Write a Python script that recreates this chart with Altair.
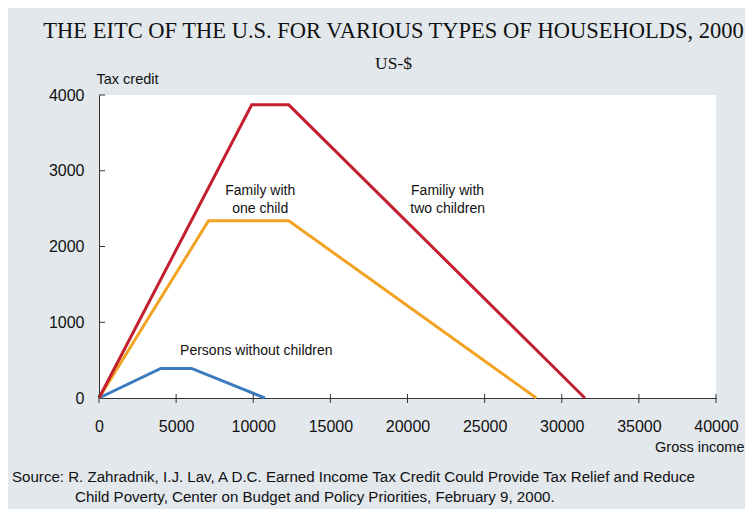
import altair as alt
import pandas as pd

# ---- data ----
series_names = ["Persons without children", "Family with one child", "Familiy with two children"]
income_no_child = [0, 4000, 6000, 10750]
credit_no_child = [0, 390, 390, 0]
income_one_child = [0, 7100, 12300, 28350]
credit_one_child = [0, 2340, 2340, 0]
income_two_children = [0, 9900, 12300, 31500]
credit_two_children = [0, 3870, 3870, 0]
series_colors = ["#3b7cbf", "#f2a324", "#c3202f"]

x_ticks = [0, 5000, 10000, 15000, 20000, 25000, 30000, 35000, 40000]
y_ticks = [0, 1000, 2000, 3000, 4000]

label_texts = [["Family with", "one child"], ["Familiy with", "two children"], ["Persons without children"]]
label_x = [10450, 22600, 10200]
label_y = [2730, 2730, 625]

source_lines = [
    "Source: R. Zahradnik, I.J. Lav, A D.C. Earned Income Tax Credit Could Provide Tax Relief and Reduce",
    "Child Poverty, Center on Budget and Policy Priorities, February 9, 2000.",
]

title_text = "THE EITC OF THE U.S. FOR VARIOUS TYPES OF HOUSEHOLDS, 2000"
subtitle_text = "US-$"

# ---- tables ----
rows = []
for name, xs, ys in zip(series_names,
                        [income_no_child, income_one_child, income_two_children],
                        [credit_no_child, credit_one_child, credit_two_children]):
    for i, (a, b) in enumerate(zip(xs, ys)):
        rows.append({"series": name, "income": a, "credit": b, "order": i})
df = pd.DataFrame(rows)
labels_df = pd.DataFrame({"text": label_texts, "x": label_x, "y": label_y})
xt_df = pd.DataFrame({"v": x_ticks})
yt_df = pd.DataFrame({"v": y_ticks[1:]})

W, H = 617, 303
xscale = alt.Scale(domain=[0, 40000], nice=False, zero=True)
yscale = alt.Scale(domain=[0, 4000], nice=False)

lines = alt.Chart(df).mark_line(strokeWidth=3, strokeJoin="miter", clip=False).encode(
    x=alt.X("income:Q", scale=xscale,
            axis=alt.Axis(values=x_ticks, title="Gross income", ticks=False, tickSize=0,
                          labelPadding=20, labelFontSize=16, labelColor="#111",
                          domainColor="#333", grid=False,
                          titleFontSize=14.5, titleFontWeight="normal", titleColor="#111",
                          titleAnchor="end", titleAlign="right", titleX=645, titleY=53,
                          titleBaseline="alphabetic", format="d", labelFlush=False)),
    y=alt.Y("credit:Q", scale=yscale,
            axis=alt.Axis(values=y_ticks, title="Tax credit", ticks=False, tickSize=0,
                          labelPadding=15, labelFontSize=16, labelColor="#111",
                          domainColor="#333", grid=False,
                          titleFontSize=14.5, titleFontWeight="normal", titleColor="#111",
                          titleAngle=0, titleAlign="left", titleX=-3, titleY=-12,
                          titleBaseline="alphabetic", format="d", labelFlush=False)),
    color=alt.Color("series:N", scale=alt.Scale(domain=series_names, range=series_colors), legend=None),
    order="order:O",
)

ytick_rules = alt.Chart(yt_df).mark_rule(color="#333", strokeWidth=1).encode(
    y=alt.Y("v:Q", scale=yscale), x=alt.value(0), x2=alt.value(6))
xtick_rules = alt.Chart(xt_df).mark_rule(color="#333", strokeWidth=1, clip=False).encode(
    x=alt.X("v:Q", scale=xscale), y=alt.value(H - 4), y2=alt.value(H + 5))

labels = alt.Chart(labels_df).mark_text(fontSize=14, font="Liberation Sans", color="#111",
                                         align="center", baseline="middle", lineHeight=17.5).encode(
    x=alt.X("x:Q", scale=xscale), y=alt.Y("y:Q", scale=yscale), text="text")

src_df = pd.DataFrame({"text": source_lines, "px": [-87, -24], "py": [387, 407]})
source = alt.Chart(src_df).mark_text(fontSize=15.1, font="Liberation Sans", color="#111",
                                     align="left", baseline="alphabetic").encode(
    x=alt.X("px:Q", scale=None), y=alt.Y("py:Q", scale=None), text="text")

chart = alt.layer(lines, ytick_rules, xtick_rules, labels, source).properties(
    width=W, height=H,
    title=alt.TitleParams(text=title_text, subtitle=subtitle_text, font="Liberation Serif",
                          subtitleFont="Liberation Serif", fontSize=22.5, subtitleFontSize=17.5,
                          fontWeight="normal", color="#111", subtitleColor="#111",
                          anchor="middle", dx=-14, offset=-1, subtitlePadding=12),
    autosize=alt.AutoSizeParams(type="none"),
    padding={"left": 91, "top": 87, "right": 29, "bottom": 111},
    background="#e3e8ed",
).configure_view(fill="white", stroke=None).configure_axis(
    labelFont="Liberation Sans", titleFont="Liberation Sans", domainWidth=1)

chart.save("out.html", embed_options={"renderer": "svg", "actions": False})
